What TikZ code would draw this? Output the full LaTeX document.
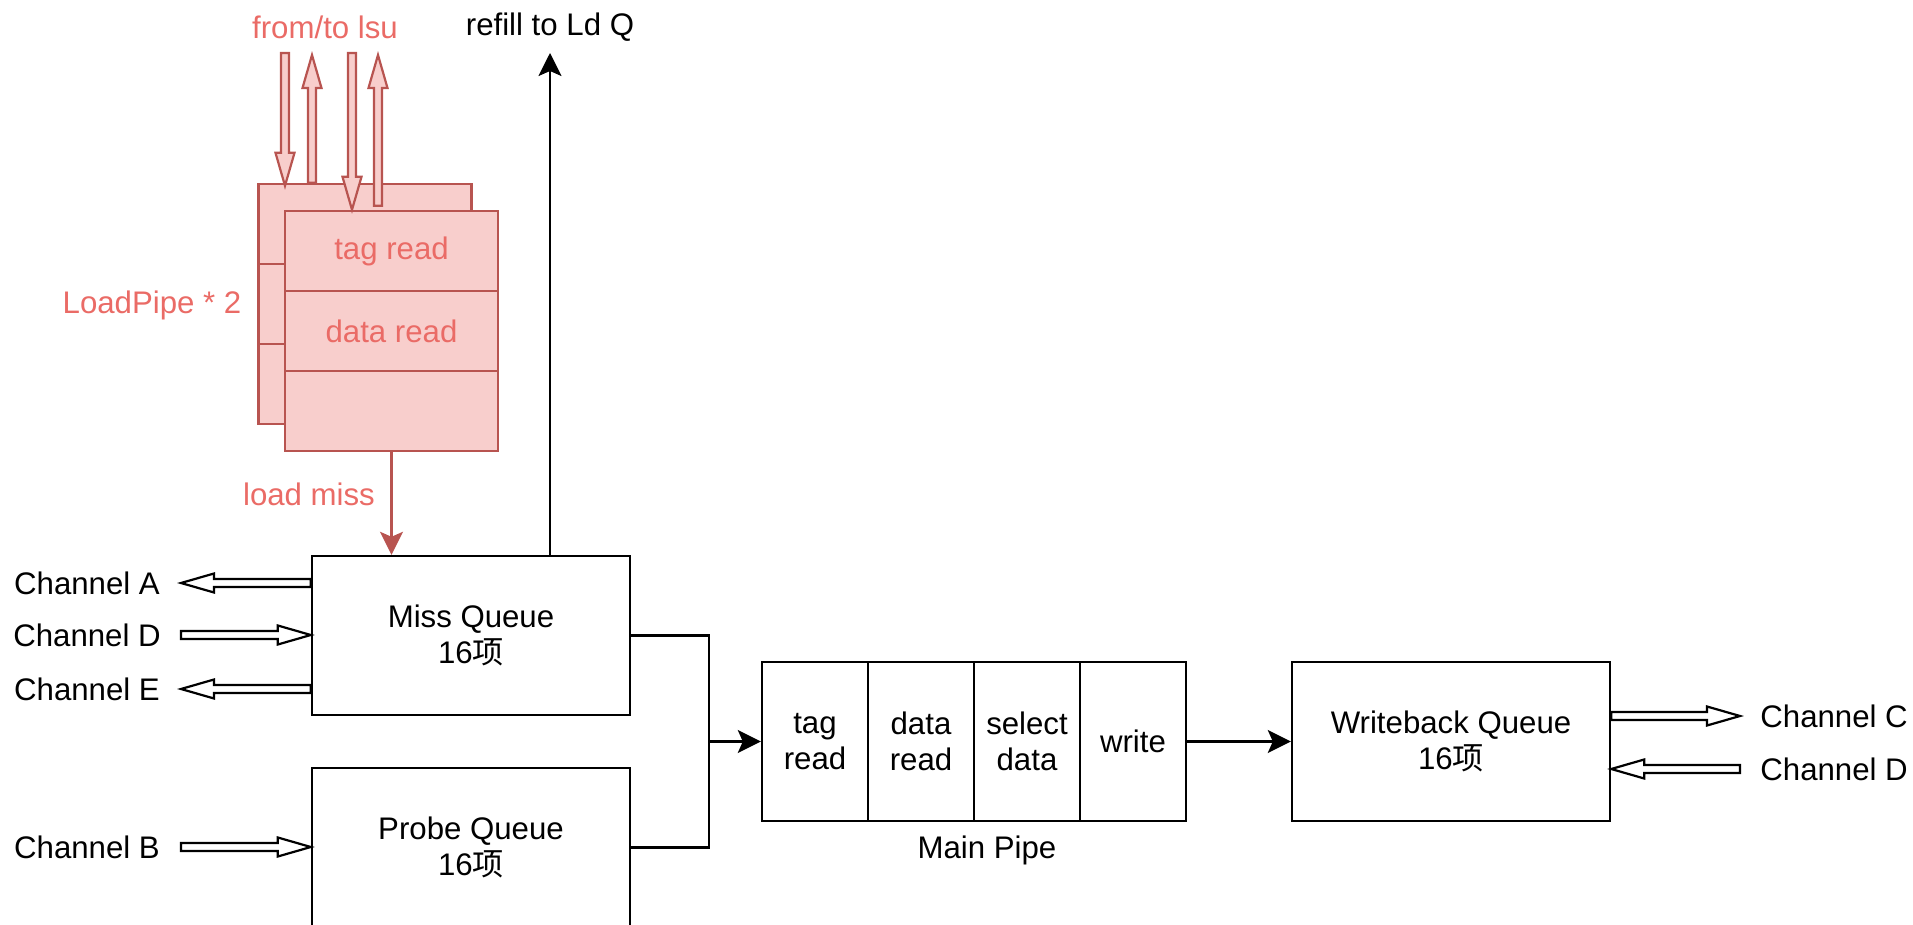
\documentclass[tikz,border=0pt]{standalone}
\usepackage{fontspec}
\setmainfont{Liberation Sans}
\newfontfamily\cjk{Noto Sans CJK SC}
\usetikzlibrary{calc,arrows.meta}

\definecolor{pinkfill}{HTML}{F8CECC}
\definecolor{pinkline}{HTML}{B85450}
\definecolor{pinktext}{HTML}{EA6B66}

% hollow block arrows: shaft half width, head half width, head length
\newcommand\flexsw{2pt}
\newcommand\flexhw{4.75pt}
\newcommand\flexhl{16.5pt}
% horizontal block arrow from #2 to #3
\newcommand\hflex[3]{%
  \draw[#1] let \p1=#2, \p2=#3, \n1={sign(\x2-\x1)} in
    (\x1,\y1+\flexsw) -- ({\x2-(\n1)*\flexhl},\y1+\flexsw)
    -- ({\x2-(\n1)*\flexhl},\y1+\flexhw) -- (\x2,\y1)
    -- ({\x2-(\n1)*\flexhl},\y1-\flexhw) -- ({\x2-(\n1)*\flexhl},\y1-\flexsw)
    -- (\x1,\y1-\flexsw) -- cycle;}
% vertical block arrow from #2 to #3
\newcommand\vflex[3]{%
  \draw[#1] let \p1=#2, \p2=#3, \n1={sign(\y2-\y1)} in
    (\x1+\flexsw,\y1) -- (\x1+\flexsw,{\y2-(\n1)*\flexhl})
    -- (\x1+\flexhw,{\y2-(\n1)*\flexhl}) -- (\x1,\y2)
    -- (\x1-\flexhw,{\y2-(\n1)*\flexhl}) -- (\x1-\flexsw,{\y2-(\n1)*\flexhl})
    -- (\x1-\flexsw,\y1) -- cycle;}

\begin{document}
\begin{tikzpicture}[x=0.5pt,y=-0.5pt,
  txt/.style={font=\fontsize{15.6pt}{18pt}\selectfont, inner sep=0pt, align=center},
  box/.style={draw, line width=1.2pt, fill=white, minimum width=159pt,
    minimum height=79.5pt, inner sep=0pt, txt},
  cell/.style={draw, line width=1.2pt, fill=white, minimum width=53pt,
    minimum height=79.5pt, inner sep=0pt, txt},
  prow/.style={draw=pinkline, fill=pinkfill, line width=1.2pt, minimum width=106.5pt,
    minimum height=40pt, inner sep=0pt, txt, text=pinktext},
  hollow/.style={draw, line width=1.1pt, fill=white},
  phollow/.style={draw=pinkline, fill=pinkfill, line width=1.1pt},
  wire/.style={line width=1.2pt, -{Stealth[length=11.5pt,width=11.5pt,inset=2.5pt]}},
]
\useasboundingbox (0,0) rectangle (1913,925);
\clip (0,0) rectangle (1913,925);

% load pipe, second copy behind
\node[prow] (b1) at (365,224) {};
\node[prow] (b2) at (365,304) {};
\node[prow] (b3) at (365,384) {};

% lsu request / response arrows
\coordinate (l1) at (285,53);
\coordinate (l2) at (312,55);
\coordinate (l3) at (352,53);
\coordinate (l4) at (378,55);
\vflex{phollow}{(l1)}{($(l1 |- b1.north)+(0,3)$)}
\vflex{phollow}{(l2 |- b1.north)}{(l2)}

% load pipe, front copy
\node[prow] (f1) at (391.5,251) {tag read};
\node[prow] (f2) at (391.5,331) {data read};
\node[prow] (f3) at (391.5,411) {};

\vflex{phollow}{(l3)}{(l3 |- f1.north)}
\vflex{phollow}{($(l4 |- f1.north)+(0,-4)$)}{(l4)}

\node[txt, text=pinktext] (lsu) at (325,27) {from/to lsu};
\node[txt, text=pinktext] (lp) at (152,305) {LoadPipe * 2};
\node[txt, text=pinktext] (lm) at (309,494) {load miss};
\node[txt] (rfl) at (550,27) {refill to Ld Q};

% queues and main pipe
\node[box] (mq) at (471,635.5) {Miss Queue\\16{\cjk 项}};
\node[box] (pq) at (471,847.5) {Probe Queue\\16{\cjk 项}};
\node[cell] (mp1) at (815,741.5) {tag\\read};
\node[cell] (mp2) at (921,741.5) {data\\read};
\node[cell] (mp3) at (1027,741.5) {select\\data};
\node[cell] (mp4) at (1133,741.5) {write};
\node[txt] (mpl) at (987,850) {Main Pipe};
\node[box] (wb) at (1451,741.5) {Writeback Queue\\16{\cjk 项}};

% connections
\draw[wire, color=pinkline] (f3.south) -- (f3.south |- mq.north);
\coordinate (rf) at (550,53);
\draw[wire] (rf |- mq.north) -- (rf);
\coordinate (jn) at (709,741.5);
\draw[line width=1.2pt] (mq.east) -| (jn) |- (pq.east);
\draw[wire] (jn) -- (mp1.west);
\draw[wire] (mp4.east) -- (wb.west);

% TileLink channels
\node[txt] (chAl) at (87,583) {Channel A};
\node[txt] (chDl) at (87,635) {Channel D};
\node[txt] (chEl) at (87,689) {Channel E};
\node[txt] (chBl) at (87,847) {Channel B};
\node[txt, anchor=west] (chCr) at (1760,716) {Channel C};
\node[txt, anchor=west] (chDr) at (1760,769) {Channel D};

\coordinate (cA) at (181,583);
\coordinate (cD) at (181,635);
\coordinate (cE) at (181,689);
\coordinate (cB) at (181,847);
\coordinate (cC) at (1740,716);
\coordinate (cD2) at (1740,769);
\hflex{hollow}{(mq.west |- cA)}{(cA)}
\hflex{hollow}{(cD)}{(mq.west |- cD)}
\hflex{hollow}{(mq.west |- cE)}{(cE)}
\hflex{hollow}{(cB)}{(pq.west |- cB)}
\hflex{hollow}{(wb.east |- cC)}{(cC)}
\hflex{hollow}{(cD2)}{(wb.east |- cD2)}
\end{tikzpicture}
\end{document}
